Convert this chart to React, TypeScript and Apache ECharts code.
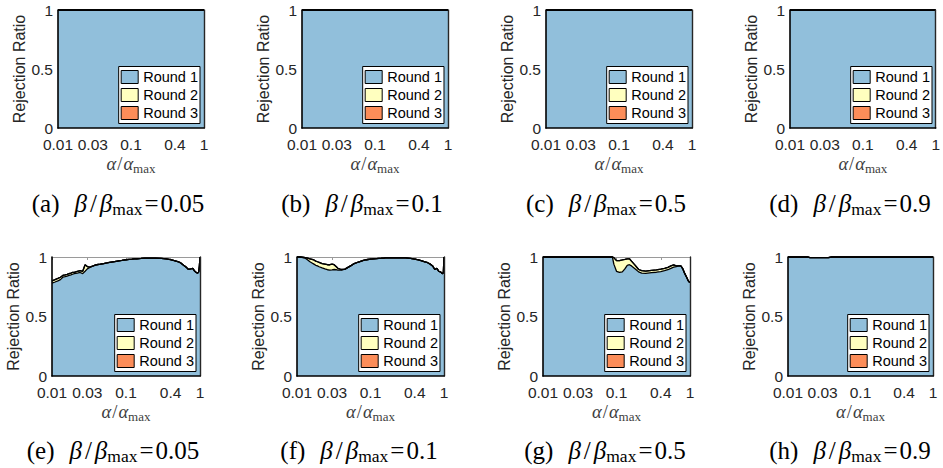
import React, { useEffect, useRef } from 'react';
import * as echarts from 'echarts';

// ---------- data ----------
const alpha = [
  0.01, 0.011, 0.012, 0.013, 0.014, 0.015, 0.016, 0.017, 0.018, 0.019,
  0.02, 0.022, 0.024, 0.026, 0.028, 0.03, 0.032, 0.034, 0.036, 0.04,
  0.045, 0.05, 0.055, 0.06, 0.07, 0.08, 0.088, 0.092, 0.1, 0.11,
  0.12, 0.13, 0.14, 0.15, 0.16, 0.18, 0.2, 0.22, 0.25, 0.3,
  0.35, 0.4, 0.45, 0.5, 0.55, 0.6, 0.65, 0.7, 0.75, 0.8,
  0.85, 0.9, 0.93, 0.96, 0.98, 1.0,
];

const xTickValues = [0.01, 0.03, 0.1, 0.4, 1];
const xTickLabels = ['0.01', '0.03', '0.1', '0.4', '1'];
const roundNames = ['Round 1', 'Round 2', 'Round 3'];
const panelLetters = ['a', 'b', 'c', 'd', 'e', 'f', 'g', 'h'];
const betaRatios = ['0.05', '0.1', '0.5', '0.9', '0.05', '0.1', '0.5', '0.9'];

const allOnes = [
  1, 1, 1, 1, 1, 1, 1, 1, 1, 1,
  1, 1, 1, 1, 1, 1, 1, 1, 1, 1,
  1, 1, 1, 1, 1, 1, 1, 1, 1, 1,
  1, 1, 1, 1, 1, 1, 1, 1, 1, 1,
  1, 1, 1, 1, 1, 1, 1, 1, 1, 1,
  1, 1, 1, 1, 1, 1,
];
const allZeros = [
  0, 0, 0, 0, 0, 0, 0, 0, 0, 0,
  0, 0, 0, 0, 0, 0, 0, 0, 0, 0,
  0, 0, 0, 0, 0, 0, 0, 0, 0, 0,
  0, 0, 0, 0, 0, 0, 0, 0, 0, 0,
  0, 0, 0, 0, 0, 0, 0, 0, 0, 0,
  0, 0, 0, 0, 0, 0,
];

// (e) beta/beta_max = 0.05, lower row
const round1E = [
  0.78, 0.79, 0.80, 0.81, 0.83, 0.835, 0.84, 0.845, 0.85, 0.855,
  0.86, 0.865, 0.87, 0.86, 0.88, 0.90, 0.91, 0.92, 0.925, 0.935,
  0.94, 0.945, 0.95, 0.955, 0.962, 0.968, 0.972, 0.974, 0.977, 0.98,
  0.982, 0.984, 0.985, 0.987, 0.988, 0.99, 0.99, 0.99, 0.99, 0.988,
  0.984, 0.978, 0.97, 0.962, 0.95, 0.93, 0.915, 0.895, 0.90, 0.905,
  0.88, 0.868, 0.865, 0.875, 0.92, 1.0,
];
const round2E = [
  0.02, 0.02, 0.02, 0.02, 0.015, 0.015, 0.015, 0.015, 0.015, 0.015,
  0.01, 0.015, 0.015, 0.02, 0.055, 0.02, 0.005, 0, 0, 0,
  0, 0, 0, 0, 0, 0, 0, 0, 0, 0,
  0, 0, 0, 0, 0, 0, 0, 0, 0, 0,
  0, 0, 0, 0, 0, 0, 0, 0, 0, 0,
  0, 0, 0, 0, 0, 0,
];
// (f) beta/beta_max = 0.1, lower row
const round1F = [
  1.0, 1.0, 0.995, 0.99, 0.975, 0.96, 0.95, 0.94, 0.93, 0.925,
  0.918, 0.908, 0.9, 0.893, 0.89, 0.892, 0.895, 0.893, 0.89, 0.89,
  0.898, 0.915, 0.93, 0.945, 0.96, 0.972, 0.977, 0.979, 0.982, 0.985,
  0.987, 0.989, 0.99, 0.991, 0.992, 0.993, 0.993, 0.993, 0.993, 0.992,
  0.988, 0.982, 0.975, 0.968, 0.96, 0.952, 0.94, 0.925, 0.895, 0.905,
  0.88, 0.875, 0.865, 0.86, 0.87, 1.0,
];
const round2F = [
  0, 0, 0.003, 0.005, 0.015, 0.025, 0.03, 0.035, 0.035, 0.035,
  0.037, 0.037, 0.04, 0.042, 0.045, 0.048, 0.04, 0.027, 0.015, 0.005,
  0, 0, 0, 0, 0, 0, 0, 0, 0, 0,
  0, 0, 0, 0, 0, 0, 0, 0, 0, 0,
  0, 0, 0, 0, 0, 0, 0, 0, 0, 0,
  0, 0, 0, 0, 0, 0,
];
// (g) beta/beta_max = 0.5, lower row
const round1G = [
  1, 1, 1, 1, 1, 1, 1, 1, 1, 1,
  1, 1, 1, 1, 1, 1, 1, 1, 1, 1,
  1, 1, 1, 1, 1, 1, 1, 0.94, 0.88, 0.87,
  0.875, 0.9, 0.93, 0.935, 0.925, 0.9, 0.875, 0.865, 0.862, 0.868,
  0.872, 0.878, 0.885, 0.893, 0.905, 0.915, 0.92, 0.925, 0.925, 0.9,
  0.86, 0.83, 0.81, 0.795, 0.79, 0.785,
];
const round2G = [
  0, 0, 0, 0, 0, 0, 0, 0, 0, 0,
  0, 0, 0, 0, 0, 0, 0, 0, 0, 0,
  0, 0, 0, 0, 0, 0, 0, 0.055, 0.09, 0.1,
  0.1, 0.08, 0.055, 0.05, 0.04, 0.03, 0.02, 0.02, 0.02, 0.02,
  0.02, 0.02, 0.02, 0.02, 0.02, 0.018, 0.005, 0, 0, 0,
  0, 0, 0, 0, 0, 0,
];
// (h) beta/beta_max = 0.9, lower row
const round1H = [
  1, 1, 1, 1, 1, 1, 1, 1, 1, 1,
  0.995, 0.995, 0.995, 0.995, 0.995, 0.995, 0.995, 0.995, 0.995, 1,
  1, 1, 1, 1, 1, 1, 1, 1, 1, 1,
  1, 1, 1, 1, 1, 1, 1, 1, 1, 1,
  1, 1, 1, 1, 1, 1, 1, 1, 1, 1,
  1, 1, 1, 1, 1, 1,
];

const panelRound1 = [allOnes, allOnes, allOnes, allOnes, round1E, round1F, round1G, round1H];
const panelRound2 = [allZeros, allZeros, allZeros, allZeros, round2E, round2F, round2G, allZeros];
const panelRound3 = [allZeros, allZeros, allZeros, allZeros, allZeros, allZeros, allZeros, allZeros];

// ---------- layout ----------
const W = 943;
const H = 468;
const gridLeft = [58, 302, 546, 790, 52, 297, 543, 788];
const gridTop = [10, 10, 10, 10, 257, 257, 257, 257];
const gridWidth = [146, 146, 146, 146, 148, 147, 147, 145];
const gridHeight = [118, 118, 118, 118, 119, 119, 119, 119];
const captionX = [118, 362, 606, 850, 113, 359, 605, 850];
const captionY = [203, 203, 203, 203, 450, 450, 450, 450];

const SANS = '"Liberation Sans", Arial, Helvetica, sans-serif';
const SERIF = '"Liberation Serif", "Times New Roman", serif';
const FILL = ['#91bfdb', '#ffffbf', '#fc8d59'];

function fmtX(v: number): string {
  let best = 0;
  let bestD = Infinity;
  for (let k = 0; k < xTickValues.length; k++) {
    const d = Math.abs(Math.log10(v) - Math.log10(xTickValues[k]));
    if (d < bestD) {
      bestD = d;
      best = k;
    }
  }
  return xTickLabels[best];
}

export default function App() {
  const ref = useRef<HTMLDivElement>(null);

  useEffect(() => {
    document.body.style.margin = '0';
    const chart = echarts.init(ref.current!, null, { renderer: 'svg' });

    const grids: any[] = [];
    const xAxes: any[] = [];
    const yAxes: any[] = [];
    const series: any[] = [];
    const legends: any[] = [];
    const graphics: any[] = [];

    const axisNameRich = {
      g: { fontFamily: SERIF, fontSize: 18.5, fontStyle: 'italic', lineHeight: 22, color: '#404040' },
      sl: { fontFamily: SERIF, fontSize: 18.5, lineHeight: 22, color: '#404040', padding: [0, 1, 0, 1] },
      s: { fontFamily: SERIF, fontSize: 13, lineHeight: 13, color: '#404040', verticalAlign: 'bottom' },
    };
    const captionRich = {
      lab: { fontFamily: SERIF, fontSize: 25, lineHeight: 29, color: '#000', padding: [0, 15, 0, 0] },
      g: { fontFamily: SERIF, fontSize: 25, fontStyle: 'italic', lineHeight: 29, color: '#000' },
      sl: { fontFamily: SERIF, fontSize: 25, lineHeight: 29, color: '#000', padding: [0, 3, 0, 3] },
      s: { fontFamily: SERIF, fontSize: 17.5, lineHeight: 17.5, color: '#000', verticalAlign: 'bottom' },
      eq: { fontFamily: SERIF, fontSize: 25, lineHeight: 29, color: '#000', padding: [0, 2, 0, 2] },
      n: { fontFamily: SERIF, fontSize: 25, lineHeight: 29, color: '#000' },
    };

    for (let i = 0; i < 8; i++) {
      grids.push({
        left: gridLeft[i],
        top: gridTop[i],
        width: gridWidth[i],
        height: gridHeight[i],
        containLabel: false,
      });

      xAxes.push({
        type: 'log',
        logBase: 10,
        gridIndex: i,
        min: 0.01,
        max: 1,
        position: 'bottom',
        z: 5,
        axisLine: { show: true, onZero: false, lineStyle: { color: '#000', width: 1.6 } },
        axisTick: { show: false },
        axisLabel: {
          show: true,
          customValues: xTickValues,
          formatter: (v: number) => fmtX(v),
          fontFamily: SANS,
          fontSize: 15.5,
          color: '#262626',
          margin: 8,
        },
        minorTick: { show: false },
        splitLine: { show: false },
        name: '{g|α}{sl|/}{g|α}{s|max}',
        nameLocation: 'middle',
        nameGap: 25,
        nameTextStyle: { rich: axisNameRich },
      });
      xAxes.push({
        type: 'log',
        logBase: 10,
        gridIndex: i,
        min: 0.01,
        max: 1,
        position: 'top',
        z: 0,
        axisLine: { show: true, onZero: false, lineStyle: { color: '#9a9a9a', width: 1 } },
        axisTick: { show: true, inside: true, length: 3, customValues: xTickValues, lineStyle: { color: '#9a9a9a' } },
        axisLabel: { show: false },
        minorTick: { show: false },
        splitLine: { show: false },
      });
      yAxes.push({
        type: 'value',
        gridIndex: i,
        min: 0,
        max: 1,
        interval: 0.5,
        position: 'left',
        z: 5,
        axisLine: { show: true, onZero: false, lineStyle: { color: '#000', width: 1.6 } },
        axisTick: { show: false },
        axisLabel: { fontFamily: SANS, fontSize: 15.5, color: '#262626', margin: 5 },
        splitLine: { show: false },
        name: 'Rejection Ratio',
        nameLocation: 'middle',
        nameGap: 29,
        nameTextStyle: { fontFamily: SANS, fontSize: 16, color: '#262626' },
      });
      yAxes.push({
        type: 'value',
        gridIndex: i,
        min: 0,
        max: 1,
        interval: 0.5,
        position: 'right',
        z: 5,
        axisLine: { show: true, onZero: false, lineStyle: { color: '#262626', width: 1.4 } },
        axisTick: { show: false },
        axisLabel: { show: false },
        splitLine: { show: false },
      });

      // cumulative layers: Round 1, Round 1+2, Round 1+2+3
      const r1 = panelRound1[i];
      const r2 = panelRound2[i];
      const r3 = panelRound3[i];
      const cum = [
        r1,
        r1.map((v, k) => v + r2[k]),
        r1.map((v, k) => v + r2[k] + r3[k]),
      ];
      // draw the highest layer first so lower rounds paint over it
      for (let r = 2; r >= 0; r--) {
        const vals = cum[r];
        series.push({
          type: 'line',
          name: roundNames[r],
          xAxisIndex: 2 * i,
          yAxisIndex: 2 * i,
          data: alpha.map((a, k) => [a, vals[k]]),
          symbol: 'none',
          showSymbol: false,
          clip: false,
          silent: true,
          z: 2,
          lineStyle: { color: '#000', width: 1.3 },
          itemStyle: { color: FILL[r] },
          areaStyle: { color: FILL[r], opacity: 1, origin: 'start' },
          emphasis: { disabled: true },
        });
      }

      const plotRight = gridLeft[i] + gridWidth[i];
      const plotBottom = gridTop[i] + gridHeight[i];
      legends.push({
        orient: 'vertical',
        right: W - (plotRight - 4),
        bottom: H - (plotBottom - 4.5),
        data: roundNames.map((n, r) => ({
          name: n,
          itemStyle: { color: FILL[r], borderColor: '#000', borderWidth: 1 },
        })),
        icon: 'rect',
        itemWidth: 17,
        itemHeight: 13,
        itemGap: 3,
        padding: [3, 2, 3, 2],
        backgroundColor: '#fff',
        borderColor: '#000',
        borderWidth: 1,
        borderRadius: 0,
        selectedMode: false,
        textStyle: { fontFamily: SANS, fontSize: 14.5, color: '#000' },
        z: 10,
      });

      graphics.push({
        type: 'text',
        x: captionX[i],
        y: captionY[i],
        style: {
          text: `{lab|(${panelLetters[i]})}{g|β}{sl|/}{g|β}{s|max}{eq|=}{n|${betaRatios[i]}}`,
          rich: captionRich,
          align: 'center',
          verticalAlign: 'middle',
        },
      });
    }

    chart.setOption({
      animation: false,
      backgroundColor: '#fff',
      grid: grids,
      xAxis: xAxes,
      yAxis: yAxes,
      series,
      legend: legends,
      graphic: graphics,
    });

    return () => {
      chart.dispose();
    };
  }, []);

  return <div ref={ref} style={{ width: W, height: H }} />;
}
